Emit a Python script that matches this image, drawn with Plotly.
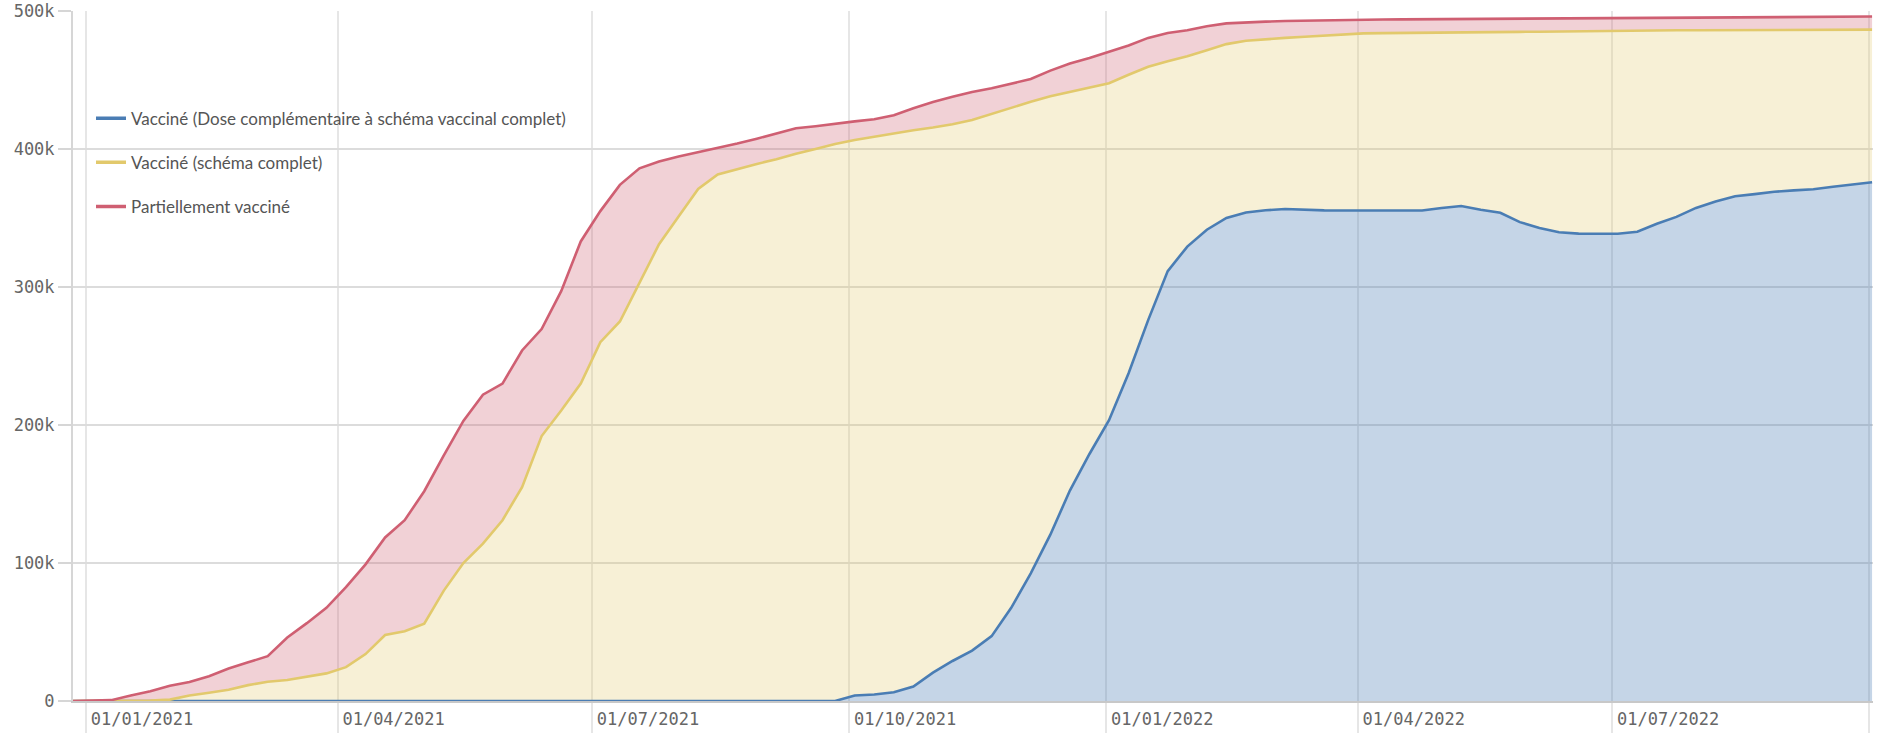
import pandas as pd
import plotly.graph_objects as go

# weekly sample dates (x categories)
dates = pd.date_range("2020-12-27", periods=93, freq="7D")

# values in thousands
partiel_k = [0, 0.3, 0.6, 4, 7, 11, 13.8, 18, 23.5, 28, 32.5, 46, 56.4, 67.5, 82.5, 99,
             118.5, 131, 152, 178, 203, 222, 230, 254, 269.5, 297, 333, 355, 374, 386,
             391, 394.5, 397.5, 400.5, 404, 407.5, 411.5, 415, 416.5, 418.5, 420, 421.5,
             424.5, 429.5, 434, 437.8, 441.3, 444, 447.2, 450.7, 456.8, 462, 466, 470.5,
             475, 480.5, 484, 486, 489, 491, 491.8, 492.3, 492.7, 493, 493.2, 493.5,
             493.7, 493.8, 493.9, 494, 494.1, 494.2, 494.3, 494.4, 494.5, 494.6, 494.7,
             494.8, 494.9, 495, 495.1, 495.2, 495.3, 495.4, 495.5, 495.6, 495.6, 495.7,
             495.8, 495.8, 495.9, 496, 496]

complet_k = [0, 0, 0, 0, 0.3, 1, 4, 6, 8.2, 11.5, 14, 15.2, 17.6, 20, 24.5, 34, 47.8,
             50.5, 56, 80, 100, 114, 131, 155, 192, 210.5, 230, 260, 275, 303, 331, 351,
             371, 381.5, 385.5, 389.2, 392.5, 396.6, 400, 403.6, 406.5, 409, 411.3, 413.6,
             415.6, 418, 421, 425.5, 429.8, 434.2, 438.2, 441.2, 444.3, 447.7, 453.8,
             459.6, 463.5, 467.2, 471.5, 476, 478.4, 479.7, 480.5, 481.3, 482.3, 483.2,
             483.8, 484, 484.2, 484.3, 484.5, 484.6, 484.7, 484.8, 484.9, 485, 485.2,
             485.4, 485.6, 485.7, 485.8, 485.9, 486, 486, 486, 486, 486, 486.1, 486.2,
             486.3, 486.4, 486.5, 486.5]

rappel_k = [0] * 40 + [4, 4.7, 6.3, 10.5, 20.5, 29, 36.5, 47, 67.5, 92.5, 120.5, 152.5,
                       179, 203.5, 237.5, 276, 311.5, 329.3, 341.5, 350, 354, 355.6, 356.5,
                       355.9, 355.5, 355.4, 355.4, 355.4, 355.4, 355.4, 357.2, 358.7, 356,
                       353.8, 347, 342.8, 339.7, 338.7, 338.6, 338.6, 340, 345.8, 350.8,
                       357.3, 362, 365.8, 367.3, 369, 370, 370.8, 372.6, 374.4, 375.9]

names = ["Vacciné (Dose complémentaire à schéma vaccinal complet)",
         "Vacciné (schéma complet)",
         "Partiellement vacciné"]

tick_dates = ["2021-01-01", "2021-04-01", "2021-07-01", "2021-10-01",
              "2022-01-01", "2022-04-01", "2022-07-01", "2022-10-01"]
tick_text = ["01/01/2021", "01/04/2021", "01/07/2021", "01/10/2021",
             "01/01/2022", "01/04/2022", "01/07/2022", ""]
y_ticks = [0, 100000, 200000, 300000, 400000, 500000]
y_text = ["0", "100k", "200k", "300k", "400k", "500k"]

line_colors = ["#4a7db4", "#e2c96c", "#cf5f72"]
fill_colors = ["rgba(74,125,180,0.32)", "rgba(226,201,108,0.28)", "rgba(207,95,114,0.29)"]

series = [rappel_k, complet_k, partiel_k]

fig = go.Figure()
for i, s in enumerate(series):
    fig.add_trace(go.Scatter(
        x=dates, y=[v * 1000 for v in s], mode="lines",
        line=dict(color=line_colors[i], width=2.6),
        fill="tozeroy" if i == 0 else "tonexty",
        fillcolor=fill_colors[i], showlegend=False, hoverinfo="skip"))

for i, n in enumerate(names):
    fig.add_trace(go.Scatter(
        x=[None], y=[None], mode="lines", name=n, legendgroup=str(i),
        line=dict(color=line_colors[i], width=3.5)))

mono = "DejaVu Sans Mono"
fig.update_layout(
    width=1881, height=733,
    margin=dict(l=73, r=8, t=11, b=32),
    paper_bgcolor="white", plot_bgcolor="white",
    showlegend=True,
    legend=dict(x=0.010, y=0.870, xanchor="left", yanchor="top",
                bgcolor="rgba(0,0,0,0)", font=dict(family="Lato", size=17, color="#555"),
                tracegroupgap=19, itemwidth=30),
    xaxis=dict(type="date", range=["2020-12-27 08:00", "2022-10-02 08:00"],
               tickvals=tick_dates, ticktext=tick_text, automargin=False,
               showgrid=True, gridcolor="#e6e6e6", gridwidth=1.5,
               ticks="outside", ticklen=32, tickcolor="#e6e6e6", tickwidth=1.5,
               ticklabelshift=56, ticklabelstandoff=-30,
               showline=True, linecolor="#c8c8c8", linewidth=1.5,
               zeroline=False,
               tickfont=dict(family=mono, size=17, color="#666")),
    yaxis=dict(range=[0, 500000], tickvals=y_ticks, ticktext=y_text, automargin=False,
               showgrid=True, gridcolor="#dcdcdc", gridwidth=1.5,
               ticks="outside", ticklen=13, tickcolor="#d6d6d6", tickwidth=2,
               showline=True, linecolor="#d6d6d6", linewidth=2,
               zeroline=False,
               tickfont=dict(family=mono, size=17, color="#666")),
)

fig.write_html("out.html", config={"displayModeBar": False},
               post_script="document.body.style.margin='0';document.body.style.overflow='hidden';")
